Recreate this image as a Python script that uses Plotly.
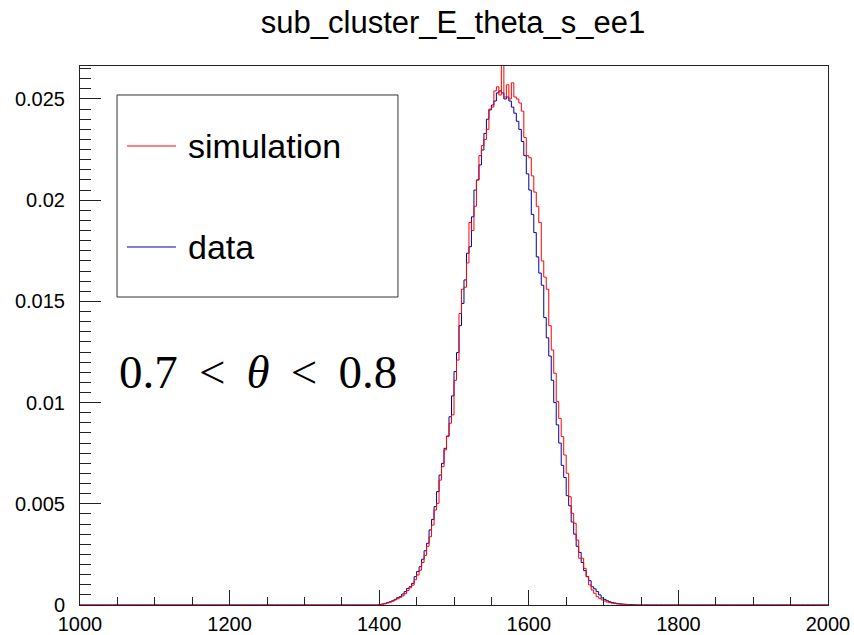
import numpy as np
import plotly.graph_objects as go

# histogram binning (ROOT TH1: 300 bins from 1000 to 2000)
X_MIN, X_MAX, N_BINS = 1000, 2000, 300
FIRST_FILLED_BIN = 120  # left edge at 1400

# normalised bin contents, starting at FIRST_FILLED_BIN
DATA_VALUES = [
    0.00003, 0.00005, 0.00008, 0.00013, 0.00016, 0.00021, 0.00028, 0.00036, 0.00041, 0.00054,
    0.00066, 0.00082, 0.00090, 0.00107, 0.00140, 0.00165, 0.00189, 0.00226, 0.00268, 0.00305,
    0.00371, 0.00423, 0.00486, 0.00560, 0.00642, 0.00700, 0.00774, 0.00835, 0.00930, 0.01033,
    0.01153, 0.01247, 0.01380, 0.01490, 0.01606, 0.01738, 0.01770, 0.01918, 0.02050, 0.02100,
    0.02174, 0.02248, 0.02330, 0.02400, 0.02446, 0.02470, 0.02490, 0.02530, 0.02540, 0.02530,
    0.02500, 0.02510, 0.02490, 0.02460, 0.02430, 0.02390, 0.02350, 0.02290, 0.02220, 0.02130,
    0.02050, 0.01930, 0.01840, 0.01720, 0.01640, 0.01580, 0.01420, 0.01320, 0.01230, 0.01110,
    0.01000, 0.00890, 0.00800, 0.00690, 0.00630, 0.00540, 0.00490, 0.00410, 0.00350, 0.00290,
    0.00260, 0.00210, 0.00170, 0.00140, 0.00120, 0.00090, 0.00080, 0.00066, 0.00050, 0.00035,
    0.00028, 0.00021, 0.00016, 0.00012, 0.00010, 0.00008, 0.00006, 0.00005, 0.00004, 0.00003,
    0.00002, 0.00002, 0.00001,
]

SIM_VALUES = [
    0.00002, 0.00004, 0.00006, 0.00010, 0.00014, 0.00019, 0.00025, 0.00031, 0.00038, 0.00045,
    0.00056, 0.00072, 0.00085, 0.00098, 0.00125, 0.00148, 0.00172, 0.00210, 0.00245, 0.00290,
    0.00337, 0.00395, 0.00469, 0.00502, 0.00617, 0.00683, 0.00766, 0.00832, 0.00898, 0.00939,
    0.01110, 0.01210, 0.01440, 0.01560, 0.01570, 0.01690, 0.01890, 0.01850, 0.01970, 0.02100,
    0.02220, 0.02270, 0.02300, 0.02350, 0.02450, 0.02460, 0.02540, 0.02560, 0.02520, 0.02760,
    0.02510, 0.02570, 0.02500, 0.02580, 0.02510, 0.02500, 0.02480, 0.02440, 0.02310, 0.02220,
    0.02210, 0.02120, 0.02040, 0.01970, 0.01890, 0.01700, 0.01620, 0.01560, 0.01380, 0.01260,
    0.01145, 0.01005, 0.00922, 0.00832, 0.00741, 0.00651, 0.00535, 0.00453, 0.00404, 0.00321,
    0.00231, 0.00231, 0.00181, 0.00140, 0.00099, 0.00074, 0.00058, 0.00041, 0.00033, 0.00025,
    0.00020, 0.00015, 0.00012, 0.00009, 0.00007, 0.00005, 0.00004, 0.00003, 0.00002, 0.00001,
]

SERIES = [('data', DATA_VALUES, '#00009c'), ('simulation', SIM_VALUES, '#ff0000')]
X_TICKS = [1000, 1200, 1400, 1600, 1800, 2000]
Y_TICKS = [0, 0.005, 0.01, 0.015, 0.02, 0.025]
Y_MAX = 0.02663
TITLE = 'sub_cluster_E_theta_s_ee1'
GAP = '\u00a0\u2009'
LABEL = f'0.7{GAP}&lt;{GAP}<i>θ</i>{GAP}&lt;{GAP}0.8'

SANS = 'Liberation Sans, Arial, Helvetica, sans-serif'
SERIF = 'Liberation Serif, DejaVu Serif, serif'


def full_contents(values):
    counts = np.zeros(N_BINS)
    counts[FIRST_FILLED_BIN:FIRST_FILLED_BIN + len(values)] = values
    return counts


def step_xy(counts):
    edges = np.linspace(X_MIN, X_MAX, N_BINS + 1)
    y = np.append(counts, counts[-1])
    return edges, y


fig = go.Figure()
for name, values, color in SERIES:
    x, y = step_xy(full_contents(values))
    fig.add_trace(go.Scatter(
        x=x, y=y, mode='lines', name=name, line=dict(color=color, width=1, shape='hv'),
        showlegend=False
    ))

# legend box drawn like ROOT's TLegend
legend_box = dict(x0=0.0495, x1=0.4251, y0=0.5714, y1=0.9462)
fig.add_shape(type='rect', xref='paper', yref='paper', line=dict(color='#333', width=1),
              fillcolor='white', layer='below', **legend_box)
for (name, _, color), ypos in zip(reversed(SERIES), [0.8516, 0.6642]):
    fig.add_shape(type='line', xref='paper', yref='paper', x0=0.0628, x1=0.1283, y0=ypos, y1=ypos,
                  line=dict(color=color, width=1))
    fig.add_annotation(x=0.1417, y=ypos, xref='paper', yref='paper', text=name, showarrow=False,
                       xanchor='left', yanchor='middle', font=dict(family=SANS, size=34, color='black'))

fig.add_annotation(x=0.0495, y=0.4323, xref='paper', yref='paper', text=LABEL, showarrow=False,
                   xanchor='left', yanchor='middle', font=dict(family=SERIF, size=47, color='black'))

axis_common = dict(showline=True, linecolor='#222', linewidth=1, mirror=True, showgrid=False,
                   zeroline=False, ticks='inside', tickcolor='#222', tickwidth=1, automargin=False,
                   tickfont=dict(family=SANS, size=20, color='black'))
fig.update_xaxes(range=[X_MIN, X_MAX], tickvals=X_TICKS, ticklen=15, ticklabelstandoff=1,
                 minor=dict(dtick=50, ticklen=8, ticks='inside', tickcolor='#222'),
                 **axis_common)
fig.update_yaxes(range=[0, Y_MAX], tickvals=Y_TICKS, ticktext=[str(v) for v in Y_TICKS], ticklen=21,
                 ticklabelstandoff=10,
                 minor=dict(dtick=0.0005, ticklen=11, ticks='inside', tickcolor='#222'),
                 **axis_common)

fig.update_layout(
    width=854, height=635,
    title=dict(text=TITLE, x=0.4987, xref='paper', xanchor='center', y=1 - 22 / 635, yanchor='middle',
               font=dict(family=SANS, size=31, color='black')),
    margin=dict(l=80, r=26, t=66, b=30),
    plot_bgcolor='white', paper_bgcolor='white',
)

# drop the browser's default page margin so the figure sits at the window origin
fig.write_html('out.html', config={'displayModeBar': False},
               post_script="document.body.style.margin = '0';")
